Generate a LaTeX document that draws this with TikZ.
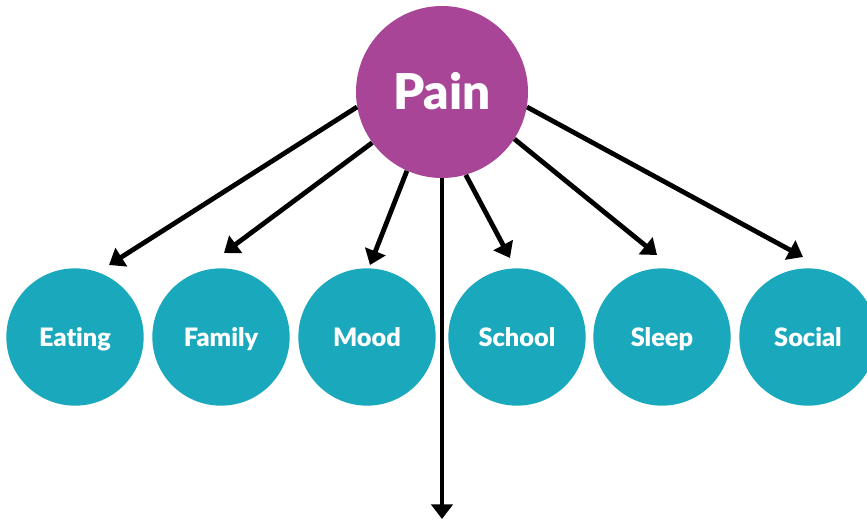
\documentclass[tikz,border=0pt]{standalone}
\usepackage{fontspec}
\setmainfont{Lato}[BoldFont={Lato Black},Ligatures=NoCommon]
\usepackage{xcolor}
\usetikzlibrary{arrows.meta}

\definecolor{painpurple}{RGB}{168,69,150}
\definecolor{areateal}{RGB}{26,168,188}

\tikzset{
  cause/.style={circle,fill=painpurple,text=white,minimum size=129pt,inner sep=0pt,
    text height=26pt,text depth=0pt,font=\fontsize{37}{42}\selectfont\bfseries},
  area/.style={circle,fill=areateal,text=white,minimum size=103pt,inner sep=0pt,
    text height=13.8pt,text depth=0pt,font=\fontsize{19}{22}\selectfont\bfseries},
  effect/.style={line width=3.6pt,-{Triangle[length=11pt,width=16pt]}}
}

\begin{document}
\begin{tikzpicture}[x=0.75pt,y=-0.75pt]
  \useasboundingbox (0,0) rectangle (867,519);
  \node[cause] (pain) at (442,92) {Pain};

  \node[area] (eating) at (75,337) {Eating};
  \node[area] (family) at (221,337) {Family};
  \node[area] (mood) at (367,337) {Mood};
  \node[area] (school) at (517,337) {School};
  \node[area] (sleep) at (662,337) {Sleep};
  \node[area] (social) at (808,337) {Social};

  % arrow ends just above the circles
  \coordinate (eating-in) at (109,265);
  \coordinate (family-in) at (224,253);
  \coordinate (mood-in) at (370,265);
  \coordinate (school-in) at (510,258);
  \coordinate (sleep-in) at (657,255);
  \coordinate (social-in) at (803,257);
  \coordinate (down-end) at (442,519);

  \path[effect]
    (pain.190) edge (eating-in)
    (pain.216) edge (family-in)
    (pain.246) edge (mood-in)
    (pain.270) edge (down-end)
    (pain.286) edge (school-in)
    (pain.327) edge (sleep-in)
    (pain.350) edge (social-in)
    ;
\end{tikzpicture}
\end{document}
